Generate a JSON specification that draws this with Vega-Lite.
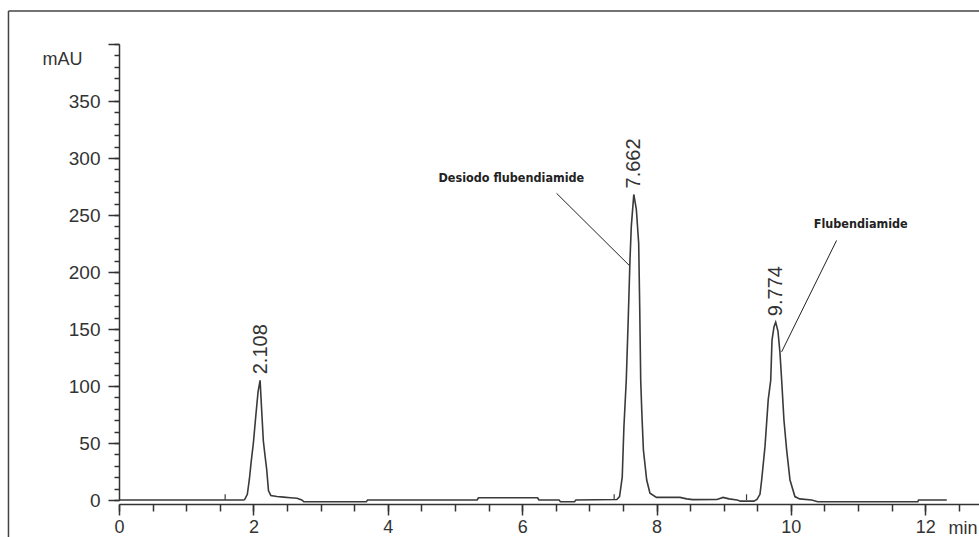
{
  "$schema": "https://vega.github.io/schema/vega-lite/v6.json",
  "width": 860,
  "height": 456,
  "autosize": {"type": "none"},
  "padding": {"left": 119, "top": 44, "right": 0, "bottom": 37},
  "background": "white",
  "config": {
    "view": {"stroke": null},
    "axis": {
      "grid": false,
      "labelFont": "Liberation Sans",
      "labelColor": "#333333",
      "labelFontSize": 19,
      "domainColor": "#333333",
      "tickColor": "#333333",
      "domainWidth": 1.5,
      "tickWidth": 1.5,
      "titleFont": "Liberation Sans",
      "titleColor": "#333333",
      "titleFontWeight": "normal",
      "titleFontSize": 19
    }
  },
  "datasets": {
    "trace": [
      {"t": 0, "mAU": 0}, {"t": 1.58, "mAU": 0}, {"t": 1.85, "mAU": 0}, {"t": 1.87, "mAU": 0.3},
      {"t": 1.91, "mAU": 5}, {"t": 1.94, "mAU": 18}, {"t": 1.97, "mAU": 35}, {"t": 2.0, "mAU": 50},
      {"t": 2.035, "mAU": 73}, {"t": 2.07, "mAU": 95}, {"t": 2.1, "mAU": 105}, {"t": 2.124, "mAU": 78},
      {"t": 2.148, "mAU": 52}, {"t": 2.175, "mAU": 38}, {"t": 2.198, "mAU": 27}, {"t": 2.225, "mAU": 8},
      {"t": 2.26, "mAU": 4}, {"t": 2.35, "mAU": 3}, {"t": 2.45, "mAU": 2.5}, {"t": 2.55, "mAU": 2},
      {"t": 2.65, "mAU": 1.5}, {"t": 2.72, "mAU": 0}, {"t": 2.75, "mAU": -1.5}, {"t": 3.68, "mAU": -1.5},
      {"t": 3.7, "mAU": 0}, {"t": 5.33, "mAU": 0}, {"t": 5.35, "mAU": 2}, {"t": 6.23, "mAU": 2},
      {"t": 6.25, "mAU": 0}, {"t": 6.55, "mAU": 0}, {"t": 6.57, "mAU": -1.5}, {"t": 6.78, "mAU": -1.5},
      {"t": 6.8, "mAU": 0}, {"t": 7.41, "mAU": 0.5}, {"t": 7.45, "mAU": 3}, {"t": 7.49, "mAU": 20},
      {"t": 7.515, "mAU": 64}, {"t": 7.55, "mAU": 105}, {"t": 7.58, "mAU": 160}, {"t": 7.605, "mAU": 210},
      {"t": 7.625, "mAU": 240}, {"t": 7.662, "mAU": 268}, {"t": 7.7, "mAU": 255}, {"t": 7.735, "mAU": 225},
      {"t": 7.75, "mAU": 170}, {"t": 7.765, "mAU": 105}, {"t": 7.782, "mAU": 76}, {"t": 7.805, "mAU": 44},
      {"t": 7.854, "mAU": 17.5}, {"t": 7.903, "mAU": 6}, {"t": 8.0, "mAU": 2.3}, {"t": 8.35, "mAU": 2.3},
      {"t": 8.45, "mAU": 1}, {"t": 8.54, "mAU": 0.3}, {"t": 8.9, "mAU": 0.5}, {"t": 8.99, "mAU": 2.3},
      {"t": 9.08, "mAU": 1}, {"t": 9.2, "mAU": 0}, {"t": 9.25, "mAU": -1}, {"t": 9.45, "mAU": -1},
      {"t": 9.495, "mAU": 0.5}, {"t": 9.54, "mAU": 5}, {"t": 9.565, "mAU": 17.5}, {"t": 9.615, "mAU": 47},
      {"t": 9.663, "mAU": 88}, {"t": 9.7, "mAU": 105}, {"t": 9.719, "mAU": 140}, {"t": 9.749, "mAU": 152},
      {"t": 9.774, "mAU": 156}, {"t": 9.808, "mAU": 148}, {"t": 9.838, "mAU": 129}, {"t": 9.863, "mAU": 105},
      {"t": 9.897, "mAU": 70}, {"t": 9.937, "mAU": 44}, {"t": 9.987, "mAU": 17.5}, {"t": 10.06, "mAU": 3},
      {"t": 10.13, "mAU": 1}, {"t": 10.31, "mAU": 0}, {"t": 10.4, "mAU": -1.5}, {"t": 11.89, "mAU": -1.5},
      {"t": 11.9, "mAU": 0}, {"t": 12.32, "mAU": 0}
    ],
    "peaks": [
      {"rt": 2.108, "height": 105, "label": "2.108"},
      {"rt": 7.662, "height": 268, "label": "7.662"},
      {"rt": 9.774, "height": 156, "label": "9.774"}
    ],
    "markers": [
      {"t": 1.58, "v0": 0, "v1": 5},
      {"t": 7.37, "v0": 0, "v1": 5},
      {"t": 9.34, "v0": 0, "v1": 5}
    ],
    "leaders": [
      {"t1": 6.513, "v1": 269, "t2": 7.594, "v2": 205.8},
      {"t1": 10.68, "v1": 227.7, "t2": 9.862, "v2": 129.9}
    ],
    "notes": [
      {"t": 5.84, "v": 282.8, "text": "Desiodo flubendiamide"},
      {"t": 11.04, "v": 242.5, "text": "Flubendiamide"}
    ],
    "frame": [
      {"t1": -1.645, "v1": -40, "t2": -1.645, "v2": 428.9},
      {"t1": -1.645, "v1": 428.9, "t2": 13.5, "v2": 428.9}
    ]
  },
  "layer": [
    {
      "data": {"name": "trace"},
      "mark": {"type": "line", "color": "#3a3a3a", "strokeWidth": 1.6, "interpolate": "linear"},
      "encoding": {
        "x": {
          "field": "t", "type": "quantitative",
          "scale": {"domain": [0, 12.8], "nice": false, "zero": false},
          "axis": {
            "orient": "bottom", "values": [0, 2, 4, 6, 8, 10, 12], "offset": 4,
            "tickSize": 11, "labelPadding": 3, "labelFontSize": 18, "labelFlush": false, "labelOverlap": false,
            "title": "min", "titleX": 829, "titleY": 15, "titleAlign": "left", "titleBaseline": "top", "titleAnchor": null, "titleFontSize": 18
          }
        },
        "y": {
          "field": "mAU", "type": "quantitative",
          "scale": {"domain": [0, 400], "nice": false, "zero": false},
          "axis": {
            "orient": "left", "values": [0, 50, 100, 150, 200, 250, 300, 350, 400],
            "labelExpr": "datum.value == 400 ? '' : datum.label",
            "tickSize": 11, "labelPadding": 8, "labelOverlap": false,
            "title": "mAU", "titleAngle": 0, "titleX": -37, "titleY": 15, "titleAlign": "right", "titleBaseline": "middle", "titleFontSize": 18
          }
        }
      }
    },
    {
      "data": {"name": "markers"},
      "mark": {"type": "rule", "color": "#3a3a3a", "strokeWidth": 1.2},
      "encoding": {
        "x": {
          "field": "t", "type": "quantitative",
          "axis": {
            "orient": "bottom", "values": [0, 0.5, 1, 1.5, 2, 2.5, 3, 3.5, 4, 4.5, 5, 5.5, 6, 6.5, 7, 7.5, 8, 8.5, 9, 9.5, 10, 10.5, 11, 11.5, 12, 12.5],
            "offset": 4, "tickSize": 7, "labels": false, "domain": false, "title": null
          }
        },
        "y": {
          "field": "v0", "type": "quantitative",
          "axis": {
            "orient": "left", "values": [0, 10, 20, 30, 40, 50, 60, 70, 80, 90, 100, 110, 120, 130, 140, 150, 160, 170, 180, 190, 200, 210, 220, 230, 240, 250, 260, 270, 280, 290, 300, 310, 320, 330, 340, 350, 360, 370, 380, 390, 400],
            "tickSize": 5, "labels": false, "domain": false, "title": null
          }
        },
        "y2": {"field": "v1"}
      }
    },
    {
      "data": {"name": "peaks"},
      "mark": {"type": "text", "angle": 270, "align": "left", "baseline": "middle", "dx": 6, "font": "Liberation Sans", "fontSize": 20, "color": "#333333"},
      "encoding": {
        "x": {"field": "rt", "type": "quantitative", "axis": null},
        "y": {"field": "height", "type": "quantitative", "axis": null},
        "text": {"field": "label"}
      }
    },
    {
      "data": {"name": "leaders"},
      "mark": {"type": "rule", "color": "#222222", "strokeWidth": 1},
      "encoding": {
        "x": {"field": "t1", "type": "quantitative", "axis": null},
        "y": {"field": "v1", "type": "quantitative", "axis": null},
        "x2": {"field": "t2"},
        "y2": {"field": "v2"}
      }
    },
    {
      "data": {"name": "notes"},
      "mark": {"type": "text", "align": "center", "baseline": "middle", "font": "DejaVu Sans Condensed, Liberation Sans Narrow, DejaVu Sans, sans-serif", "fontWeight": "bold", "fontSize": 12.5, "color": "#222222"},
      "encoding": {
        "x": {"field": "t", "type": "quantitative", "axis": null},
        "y": {"field": "v", "type": "quantitative", "axis": null},
        "text": {"field": "text"}
      }
    },
    {
      "data": {"name": "frame"},
      "mark": {"type": "rule", "color": "#444444", "strokeWidth": 1.5},
      "encoding": {
        "x": {"field": "t1", "type": "quantitative", "axis": null},
        "y": {"field": "v1", "type": "quantitative", "axis": null},
        "x2": {"field": "t2"},
        "y2": {"field": "v2"}
      }
    }
  ],
  "resolve": {"axis": {"x": "independent", "y": "independent"}}
}
